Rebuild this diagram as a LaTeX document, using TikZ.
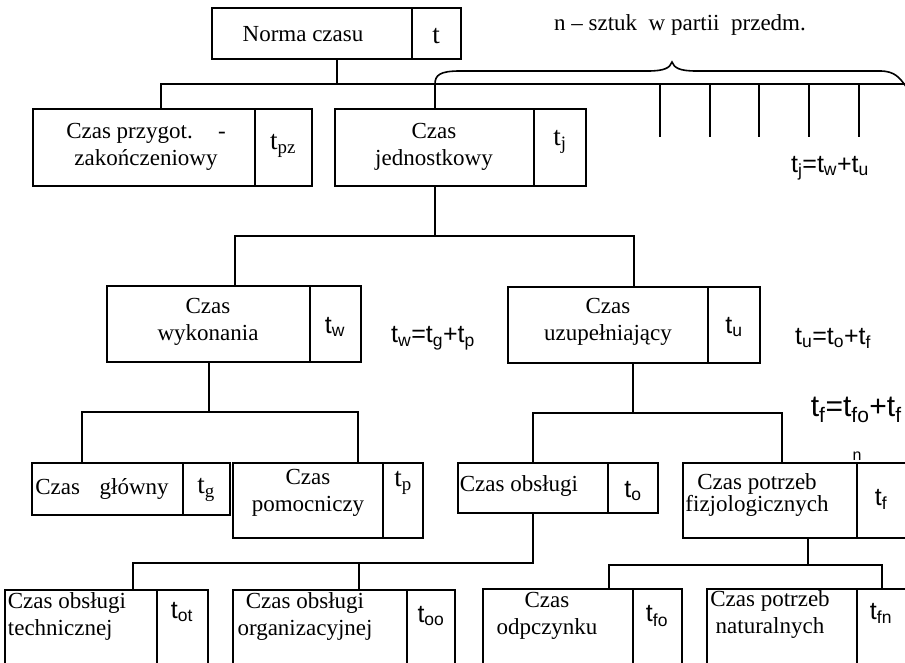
\documentclass[tikz,border=0pt]{standalone}
\usepackage{fontspec}
\setmainfont{Liberation Serif}
\newfontfamily\sansf{Liberation Sans}
\newcommand\fsmain{\fontsize{23}{27}\selectfont}
\newcommand\fslab{\fontsize{27}{30}\selectfont}
\newcommand\fsform{\sansf\fontsize{25}{28}\selectfont}
\newcommand\sub[1]{\textsubscript{#1}}
\begin{document}
\begin{tikzpicture}[x=1pt,y=-1pt,line width=1.8pt,
  cell/.style 2 args={draw,inner sep=0pt,outer sep=0pt,anchor=north west,minimum width=#1,minimum height=#2},
  txt/.style={inner sep=0pt,align=center,font=\fsmain},
  ltxt/.style={inner sep=0pt,align=center,font=\fslab},
  stxt/.style={inner sep=0pt,align=center,font=\fsform}]
\useasboundingbox[fill=white] (0,0) rectangle (905,663);
% boxes
\node[cell={200pt}{51pt}] (normaL) at (212,8) {};
\node[cell={49pt}{51pt}] (normaR) at (412,8) {};
\node[cell={222pt}{77pt}] (przygL) at (33,109) {};
\node[cell={57pt}{77pt}] (przygR) at (255,109) {};
\node[cell={199pt}{77pt}] (jednL) at (335,109) {};
\node[cell={52pt}{77pt}] (jednR) at (534,109) {};
\node[cell={203pt}{76pt}] (wykL) at (107,286) {};
\node[cell={51pt}{76pt}] (wykR) at (310,286) {};
\node[cell={200pt}{76pt}] (uzuL) at (508,287) {};
\node[cell={52pt}{76pt}] (uzuR) at (708,287) {};
\node[cell={151pt}{52pt}] (glL) at (32,463) {};
\node[cell={47pt}{52pt}] (glR) at (183,463) {};
\node[cell={150pt}{75pt}] (pomL) at (233,463) {};
\node[cell={40pt}{75pt}] (pomR) at (383,463) {};
\node[cell={150pt}{50pt}] (obsL) at (458,463) {};
\node[cell={50pt}{50pt}] (obsR) at (608,463) {};
\node[cell={174pt}{75pt}] (fizL) at (683,463) {};
\node[cell={60pt}{75pt}] (fizR) at (857,463) {};
\node[cell={152pt}{90pt}] (techL) at (5,590) {};
\node[cell={51pt}{90pt}] (techR) at (157,590) {};
\node[cell={174pt}{90pt}] (orgL) at (233,590) {};
\node[cell={48pt}{90pt}] (orgR) at (407,590) {};
\node[cell={150pt}{90pt}] (odpL) at (483,589) {};
\node[cell={49pt}{90pt}] (odpR) at (633,589) {};
\node[cell={150pt}{90pt}] (natL) at (707,589) {};
\node[cell={60pt}{90pt}] (natR) at (857,589) {};
% texts
\node[txt] (t1) at (303,34) {Norma czasu};
\node[ltxt] (t1r) at (436,36) {t};
\node[txt] (t2) at (146,147) {Czas przygot.\hspace{1.1em}-\\zakończeniowy};
\node[ltxt] (t2r) at (283,146) {t\sub{pz}};
\node[txt] (t3) at (434,147) {Czas\\jednostkowy};
\node[ltxt] (t3r) at (560,142) {t\sub{j}};
\node[txt] (t4) at (208,322) {Czas\\wykonania};
\node[stxt] (t4r) at (335,327) {t\sub{w}};
\node[txt] (t5) at (608,322) {Czas\\uzupełniający};
\node[stxt] (t5r) at (734,327) {t\sub{u}};
\node[txt] (t6) at (102,489) {Czas\hspace{0.6em} główny};
\node[ltxt] (t6r) at (206,490) {t\sub{g}};
\node[txt] (t7) at (308,493) {Czas\\pomocniczy};
\node[ltxt] (t7r) at (403,483) {t\sub{p}};
\node[txt,anchor=west] (t8) at (459,486) {Czas obsługi};
\node[stxt] (t8r) at (633,491) {t\sub{o}};
\node[txt,font=\fontsize{23}{18}\selectfont] (t9) at (757,495) {Czas potrzeb\\fizjologicznych};
\node[stxt] (t9r) at (881,499) {t\sub{f}};
\node[txt,align=left,anchor=west] (t10) at (7,616) {Czas obsługi\\technicznej};
\node[stxt] (t10r) at (182,612) {t\sub{ot}};
\node[txt] (t11) at (305,616) {Czas obsługi\\organizacyjnej};
\node[stxt] (t11r) at (431,616) {t\sub{oo}};
\node[txt] (t12) at (547,616) {Czas\\odpczynku};
\node[stxt] (t12r) at (657,616) {t\sub{fo}};
\node[txt] (t13) at (770,614) {Czas potrzeb\\naturalnych};
\node[stxt] (t13r) at (881,613) {t\sub{fn}};
% formulas and notes
\node[txt] (note) at (680,25) {n – sztuk\ \ w partii\ \ przedm.};
\node[stxt] (f1) at (830,168) {t\sub{j}=t\sub{w}+t\sub{u}};
\node[stxt] (f2) at (433,338) {t\sub{w}=t\sub{g}+t\sub{p}};
\node[stxt] (f3) at (833,338) {t\sub{u}=t\sub{o}+t\sub{f}};
\node[stxt,anchor=west,font=\sansf\fontsize{30}{32}\selectfont] (f4) at (810,410) {t\sub{f}=t\sub{fo}+t\sub{f}};
\node[inner sep=0pt,font=\sansf\fontsize{16}{17}\selectfont] (f5) at (857,456) {n};
% connectors
\coordinate (busend) at (906,84);
\draw ([xshift=125pt]normaL.south west) -- ++(0,25) -| ([xshift=128pt]przygL.north west);
\draw ([xshift=128pt]przygL.north west) |- (busend);
\draw ([xshift=100pt]jednL.north west) -- ++(0,-25);
\draw ([xshift=100pt]jednL.south west) -- ++(0,50) -| ([xshift=128pt]wykL.north west);
\draw ([xshift=100pt]jednL.south west) -- ++(0,50) -| ([xshift=126pt]uzuL.north west);
\draw ([xshift=102pt]wykL.south west) -- ++(0,50) -| ([xshift=50pt]glL.north west);
\draw ([xshift=102pt]wykL.south west) -- ++(0,50) -| ([xshift=125pt]pomL.north west);
\draw ([xshift=125pt]uzuL.south west) -- ++(0,50) -| ([xshift=75pt]obsL.north west);
\draw ([xshift=125pt]uzuL.south west) -- ++(0,50) -| ([xshift=99pt]fizL.north west);
\draw ([xshift=75pt]obsL.south west) -- ++(0,50) -| ([xshift=128pt]techL.north west);
\draw ([xshift=75pt]obsL.south west) -- ++(0,50) -| ([xshift=126pt]orgL.north west);
\draw ([xshift=125pt]fizL.south west) -- ++(0,27) -| ([xshift=126pt]odpL.north west);
\draw ([xshift=125pt]fizL.south west) -- ++(0,27) -| ([xshift=25pt]natR.north west);
% ticks under the brace
\foreach \x in {660,710,759,809,859} \draw (\x,84) -- (\x,137);
% brace
\draw[line width=1.6pt] (435,84) .. controls (435,75) and (440,71) .. (460,71) -- (648,71)
  .. controls (664,71) and (670,68) .. (672,62) .. controls (674,68) and (680,71) .. (696,71)
  -- (880,71) .. controls (895,71) and (900,78) .. (907,88);
\end{tikzpicture}
\end{document}
